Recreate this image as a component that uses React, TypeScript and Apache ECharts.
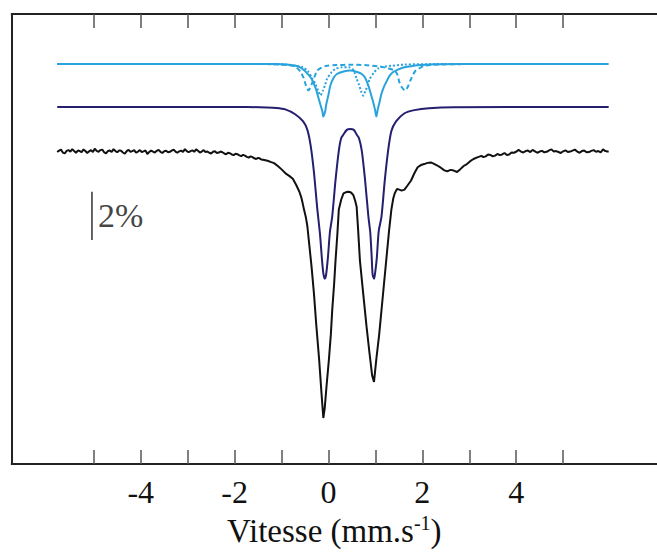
import React, { useEffect, useRef } from "react";
import * as echarts from "echarts";

// Velocity axis (mm/s)
const velocityMin = -6.75;
const velocityMax = 7.0;
const tickValues = [-5, -4, -3, -2, -1, 0, 1, 2, 3, 4, 5];
const labelValues = [-4, -2, 0, 2, 4];

// Transmission axis (%)
const transMin = 87.03;
const transMax = 105.71;

// Vertical offsets of the stacked curves (%)
const offsetFit = 1.85;
const offsetSites = 3.63;

// Scale bar (2 %)
const scaleBar = [
  [-5.04, 96.33],
  [-5.04, 98.33],
];
const scaleBarLabel = "2%";

// Experimental spectrum [velocity, transmission %]
const experimental = [
  [-5.78, 99.98], [-5.74, 100.04], [-5.7, 100.08], [-5.66, 99.96], [-5.62, 99.92], [-5.58, 100.03],
  [-5.54, 100.06], [-5.5, 99.99], [-5.46, 100.1], [-5.42, 100.02],
  [-5.38, 99.95], [-5.34, 100.04], [-5.3, 100.02], [-5.26, 99.97], [-5.22, 100.09], [-5.18, 100.02],
  [-5.14, 99.94], [-5.1, 100.01], [-5.06, 100.06], [-5.02, 99.98],
  [-4.98, 100.12], [-4.94, 100.03], [-4.9, 99.99], [-4.86, 100.06], [-4.82, 100.08], [-4.78, 99.97],
  [-4.74, 99.93], [-4.7, 100.02], [-4.66, 100.04], [-4.62, 99.98],
  [-4.58, 100.1], [-4.54, 100.02], [-4.5, 99.97], [-4.46, 100.05], [-4.42, 100.03], [-4.38, 99.96],
  [-4.34, 99.91], [-4.3, 100.02], [-4.26, 100.07], [-4.22, 99.99],
  [-4.18, 100.02], [-4.14, 100.06], [-4.1, 99.95], [-4.06, 100.0], [-4.02, 100.06], [-3.98, 99.98],
  [-3.94, 100.01], [-3.9, 100.05], [-3.86, 99.9], [-3.82, 99.98],
  [-3.78, 100.04], [-3.74, 100.0], [-3.7, 99.96], [-3.66, 100.03], [-3.62, 100.07], [-3.58, 99.99],
  [-3.54, 99.94], [-3.5, 100.01], [-3.46, 100.03], [-3.42, 99.97],
  [-3.38, 99.99], [-3.34, 100.04], [-3.3, 100.08], [-3.26, 100.0], [-3.22, 99.95], [-3.18, 100.01],
  [-3.14, 100.04], [-3.1, 99.98], [-3.06, 100.1], [-3.02, 100.02],
  [-2.98, 99.97], [-2.94, 100.02], [-2.9, 100.05], [-2.86, 99.99], [-2.82, 100.09], [-2.78, 100.03],
  [-2.74, 99.96], [-2.7, 100.0], [-2.66, 100.06], [-2.62, 99.98],
  [-2.58, 100.0], [-2.54, 99.95], [-2.5, 99.92], [-2.46, 99.99], [-2.42, 100.01], [-2.38, 99.94],
  [-2.34, 99.96], [-2.3, 100.0], [-2.26, 99.97], [-2.22, 99.92],
  [-2.18, 99.89], [-2.14, 99.95], [-2.1, 99.93], [-2.06, 99.88], [-2.02, 99.85], [-1.98, 99.91],
  [-1.94, 99.89], [-1.9, 99.84], [-1.86, 99.81], [-1.82, 99.86],
  [-1.78, 99.83], [-1.74, 99.78], [-1.7, 99.75], [-1.66, 99.8], [-1.62, 99.77], [-1.58, 99.72],
  [-1.54, 99.69], [-1.5, 99.74], [-1.46, 99.71], [-1.42, 99.66],
  [-1.39, 99.66], [-1.3, 99.62], [-1.22, 99.56], [-1.16, 99.52], [-1.08, 99.4],
  [-1.0, 99.26], [-0.9, 99.07], [-0.83, 98.98], [-0.76, 98.87], [-0.69, 98.62],
  [-0.62, 98.33], [-0.58, 98.1], [-0.55, 97.85], [-0.52, 97.58], [-0.48, 97.25],
  [-0.45, 96.9], [-0.41, 96.15], [-0.36, 95.2], [-0.31, 94.11], [-0.26, 92.8],
  [-0.2, 91.39], [-0.15, 90.0], [-0.11, 88.94], [-0.08, 89.35], [-0.04, 90.3],
  [0.01, 91.39], [0.05, 92.4], [0.08, 93.43], [0.12, 94.5], [0.15, 95.47],
  [0.19, 96.6], [0.22, 97.59], [0.27, 98.0], [0.32, 98.26], [0.38, 98.32],
  [0.43, 98.33], [0.48, 98.3], [0.53, 98.19], [0.57, 97.95], [0.6, 97.71],
  [0.63, 96.8], [0.67, 95.47], [0.74, 94.1], [0.81, 92.75], [0.87, 91.7],
  [0.93, 90.71], [0.97, 90.44], [1.02, 91.39], [1.08, 92.4], [1.13, 93.43],
  [1.18, 94.45], [1.23, 95.47], [1.29, 96.7], [1.34, 97.59], [1.38, 98.05],
  [1.41, 98.26], [1.46, 98.45], [1.51, 98.42], [1.56, 98.38], [1.62, 98.42],
  [1.68, 98.58], [1.76, 98.8], [1.83, 99.1], [1.9, 99.35], [1.97, 99.44],
  [2.04, 99.48], [2.11, 99.53], [2.18, 99.55], [2.25, 99.49], [2.32, 99.42],
  [2.4, 99.32], [2.47, 99.22], [2.53, 99.18], [2.6, 99.24], [2.67, 99.21],
  [2.74, 99.15], [2.81, 99.27], [2.88, 99.4], [2.95, 99.48], [3.02, 99.6],
  [3.09, 99.69], [3.17, 99.76], [3.26, 99.82], [3.3, 99.77], [3.35, 99.8], [3.4, 99.88], [3.45, 99.86],
  [3.5, 99.8], [3.55, 99.83], [3.6, 99.9], [3.65, 99.85], [3.7, 99.88], [3.75, 99.94], [3.8, 99.86],
  [3.85, 99.88], [3.9, 99.96], [3.95, 99.95], [4.0, 99.99],
  [4.05, 100.07], [4.1, 100.0], [4.15, 99.96], [4.2, 100.02], [4.25, 100.04], [4.3, 99.98],
  [4.35, 100.07], [4.4, 100.01], [4.45, 99.95], [4.5, 100.0],
  [4.55, 100.03], [4.6, 99.97], [4.65, 99.99], [4.7, 100.05], [4.75, 100.09], [4.8, 100.0],
  [4.85, 100.02], [4.9, 99.98], [4.95, 99.94], [5.0, 100.01],
  [5.05, 100.05], [5.1, 99.98], [5.15, 100.0], [5.2, 100.04], [5.25, 100.08], [5.3, 100.0],
  [5.35, 99.95], [5.4, 100.02], [5.45, 100.04], [5.5, 99.97],
  [5.55, 99.98], [5.6, 100.03], [5.65, 100.06], [5.7, 99.99], [5.75, 100.02], [5.8, 99.97],
  [5.85, 100.09], [5.9, 100.02], [5.97, 99.99],
];

// Fitted envelope (dark blue)
const fitTotal = [
  [-5.78, 100.0], [-1.74, 100.0], [-1.32, 99.98], [-1.11, 99.96], [-0.92, 99.9],
  [-0.71, 99.7], [-0.54, 99.4], [-0.45, 99.05], [-0.38, 98.4], [-0.31, 97.3],
  [-0.24, 95.8], [-0.18, 94.7], [-0.14, 93.7], [-0.11, 93.1], [-0.08, 92.87],
  [-0.05, 93.05], [-0.01, 93.8], [0.03, 94.8], [0.08, 95.46], [0.15, 96.96],
  [0.22, 98.18], [0.27, 98.7], [0.32, 98.86], [0.39, 99.05], [0.46, 99.09],
  [0.54, 99.05], [0.6, 98.86], [0.65, 98.7], [0.71, 98.18], [0.78, 96.96],
  [0.85, 95.46], [0.89, 94.8], [0.92, 93.8], [0.94, 93.05], [0.97, 92.87],
  [0.99, 93.05], [1.03, 93.74], [1.07, 94.84], [1.13, 95.46], [1.2, 96.96],
  [1.27, 98.18], [1.34, 99.0], [1.44, 99.4], [1.62, 99.74], [1.83, 99.87],
  [2.14, 99.95], [2.67, 99.99], [5.97, 100.0],
];

// Sub-spectrum 1 (solid light blue)
const siteSolid = [
  [-5.78, 100.0], [-1.11, 100.0], [-0.69, 99.93], [-0.55, 99.8], [-0.41, 99.52],
  [-0.34, 99.31], [-0.27, 98.98], [-0.21, 98.57], [-0.17, 98.3], [-0.13, 98.04],
  [-0.11, 97.82], [-0.07, 98.04], [-0.05, 98.3], [0.0, 98.73], [0.04, 99.11],
  [0.11, 99.43], [0.18, 99.59], [0.32, 99.69], [0.46, 99.73], [0.61, 99.67],
  [0.71, 99.59], [0.78, 99.43], [0.85, 99.11], [0.9, 98.78], [0.95, 98.44],
  [0.99, 98.12], [1.02, 97.82], [1.05, 98.12], [1.09, 98.44], [1.13, 98.78],
  [1.19, 99.1], [1.23, 99.25], [1.3, 99.51], [1.37, 99.66], [1.49, 99.78],
  [1.62, 99.87], [1.79, 99.92], [1.97, 99.96], [2.35, 99.99], [2.88, 100.0],
  [5.97, 100.0],
];

// Sub-spectrum 2 (dashed light blue)
const siteDashed = [
  [-5.78, 100.0], [-1.32, 100.0], [-1.01, 99.98], [-0.76, 99.93], [-0.67, 99.84],
  [-0.59, 99.66], [-0.53, 99.43], [-0.48, 99.11], [-0.45, 98.98], [-0.43, 98.91],
  [-0.4, 98.98], [-0.34, 99.25], [-0.29, 99.51], [-0.24, 99.73], [-0.15, 99.85],
  [-0.06, 99.92], [0.15, 99.96], [0.46, 99.97], [0.78, 99.96], [1.09, 99.9],
  [1.28, 99.82], [1.41, 99.73], [1.47, 99.55], [1.51, 99.25], [1.57, 99.02],
  [1.63, 98.91], [1.68, 99.02], [1.76, 99.39], [1.81, 99.59], [1.86, 99.73],
  [1.95, 99.84], [2.04, 99.93], [2.35, 99.98], [2.88, 100.0], [5.97, 100.0],
];

// Sub-spectrum 3 (dotted light blue)
const siteDotted = [
  [-5.78, 100.0], [-1.32, 100.0], [-0.9, 99.98], [-0.69, 99.93], [-0.55, 99.87],
  [-0.44, 99.71], [-0.34, 99.39], [-0.27, 99.14], [-0.22, 98.9], [-0.17, 98.7],
  [-0.12, 98.9], [-0.07, 99.14], [-0.03, 99.39], [0.06, 99.65], [0.15, 99.8],
  [0.29, 99.87], [0.43, 99.87], [0.53, 99.76], [0.6, 99.39], [0.65, 99.14],
  [0.69, 98.9], [0.74, 98.69], [0.79, 98.9], [0.84, 99.14], [0.88, 99.39],
  [0.97, 99.65], [1.06, 99.82], [1.2, 99.9], [1.34, 99.93], [1.62, 99.98],
  [2.25, 100.0], [5.97, 100.0],
];

const axisTitle = "Vitesse (mm.s";
const axisTitleSup = "-1";

const serif = "Liberation Serif, DejaVu Serif, Noto Serif, serif";
const colorText = "#111111";
const colorData = "#111111";
const colorFit = "#241f6e";
const colorSite = "#2aa3dd";

const shift = (arr: number[][], off: number) => arr.map(([x, y]) => [x, +(y + off).toFixed(3)]);

export default function App() {
  const ref = useRef<HTMLDivElement>(null);
  useEffect(() => {
    if (!ref.current) return;
    const chart = echarts.init(ref.current, null, { renderer: "svg" });
    const xCommon = {
      type: "value" as const,
      min: velocityMin,
      max: velocityMax,
      splitLine: { show: false },
      axisLine: { show: true, onZero: false, lineStyle: { color: "#222", width: 2 } },
      axisTick: {
        show: true,
        inside: true,
        length: 14,
        customValues: tickValues,
        lineStyle: { color: "#555", width: 1.5 },
      },
    };
    chart.setOption({
      animation: false,
      backgroundColor: "#ffffff",
      textStyle: { fontFamily: serif },
      grid: { left: 11.7, top: 14, width: 654.5, height: 457.7, containLabel: false },
      xAxis: [
        {
          ...xCommon,
          position: "bottom",
          axisLabel: {
            show: true,
            customValues: labelValues,
            margin: 12,
            fontSize: 32,
            fontFamily: serif,
            color: colorText,
          },
          name: `{a|${axisTitle}}{b|${axisTitleSup}}{a|)}`,
          nameLocation: "middle",
          nameGap: 49,
          nameTextStyle: {
            fontFamily: serif,
            rich: {
              a: { fontSize: 33, fontFamily: serif, color: colorText, verticalAlign: "bottom", lineHeight: 34 },
              b: { fontSize: 20, fontFamily: serif, color: colorText, verticalAlign: "top", lineHeight: 34, padding: [0, 0, 14, 0] },
            },
          },
        },
        {
          ...xCommon,
          position: "top",
          axisLabel: { show: false },
        },
      ],
      yAxis: {
        type: "value",
        min: transMin,
        max: transMax,
        position: "left",
        splitLine: { show: false },
        axisLine: { show: true, onZero: false, lineStyle: { color: "#222", width: 2 } },
        axisTick: { show: false },
        axisLabel: { show: false },
      },
      series: [
        {
          type: "line",
          data: shift(siteSolid, offsetSites),
          showSymbol: false,
          smooth: 0.25,
          lineStyle: { color: colorSite, width: 2 },
        },
        {
          type: "line",
          data: shift(siteDashed, offsetSites),
          showSymbol: false,
          smooth: 0.25,
          lineStyle: { color: colorSite, width: 2, type: [5, 3] },
        },
        {
          type: "line",
          data: shift(siteDotted, offsetSites),
          showSymbol: false,
          smooth: 0.25,
          lineStyle: { color: colorSite, width: 2, type: [2, 2] },
        },
        {
          type: "line",
          data: shift(fitTotal, offsetFit),
          showSymbol: false,
          smooth: 0.25,
          lineStyle: { color: colorFit, width: 2 },
        },
        {
          type: "line",
          data: experimental,
          showSymbol: false,
          lineStyle: { color: colorData, width: 2 },
        },
        {
          type: "line",
          data: scaleBar,
          showSymbol: false,
          lineStyle: { color: "#333", width: 1.5 },
        },
        {
          type: "scatter",
          data: [[scaleBar[0][0], (scaleBar[0][1] + scaleBar[1][1]) / 2]],
          symbolSize: 0,
          label: {
            show: true,
            position: "right",
            distance: 6,
            formatter: scaleBarLabel,
            fontSize: 34,
            fontFamily: serif,
            color: colorText,
          },
        },
      ],
    });
    return () => chart.dispose();
  }, []);
  return <div ref={ref} style={{ position: "absolute", left: 0, top: 0, width: 657, height: 552 }} />;
}
